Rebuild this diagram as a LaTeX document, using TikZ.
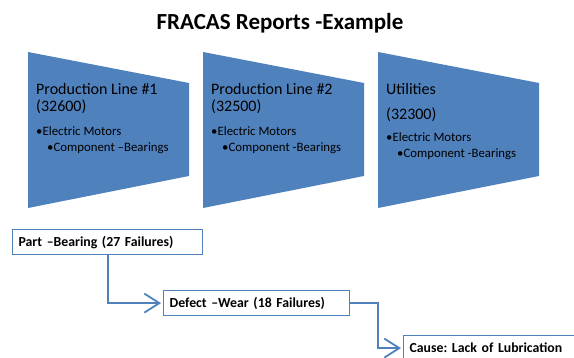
\documentclass[tikz,border=0pt]{standalone}
\usepackage{fontspec}
\setmainfont{Carlito}
\usetikzlibrary{positioning,arrows.meta}
\frenchspacing

\definecolor{procblue}{HTML}{4F81BD}

\begin{document}
\begin{tikzpicture}[x=1pt, y=-1pt, >={Straight Barb[length=15pt, width=19pt]},
  head/.style={anchor=base west, inner sep=0pt, font=\fontsize{16}{18}\selectfont},
  item/.style={anchor=base west, inner sep=0pt, font=\fontsize{12.8}{14}\selectfont},
  report/.style={draw=procblue, line width=1.2pt, anchor=north west, inner sep=6pt,
    align=left, minimum height=25pt, font=\bfseries\fontsize{13.8}{15}\selectfont},
  conn/.style={draw=procblue, line width=1.8pt, ->, shorten >=2pt}]
  \clip (0,0) rectangle (574,358);

  \node[font=\bfseries\fontsize{23}{26}\selectfont, anchor=base] (title) at (280,30) {FRACAS Reports -Example};

  % process shapes
  \foreach \i/\x/\dy/\comp in {1/28/0/{Component –Bearings}, 2/203/0/{Component -Bearings}, 3/378/6/{Component -Bearings}} {
    \fill[procblue] (\x,52) -- (\x+161,83) -- (\x+161,176) -- (\x,208) -- cycle;
    \node[item] (motors\i) at (\x+8,136+\dy) {•Electric Motors};
    \node[item] (comp\i) at (\x+19,152+\dy) {•\comp};
  }
  \node[head] (line1) at (36,95) {Production Line \#1};
  \node[head] (code1) at (36,112) {(32600)};
  \node[head] (line2) at (211,95) {Production Line \#2};
  \node[head] (code2) at (211,112) {(32500)};
  \node[head] (util) at (386,95) {Utilities};
  \node[head] (code3) at (386,120) {(32300)};

  % drill-down
  \node[report, text width=178pt] (part) at (12,229) {Part –Bearing (27 Failures)};
  \node[report, text width=174pt] (defect) at (163,290) {Defect –Wear (18 Failures)};
  \node[report, text width=200pt] (cause) at (403,335) {Cause: Lack of Lubrication};

  \draw[conn] (part.south) |- (defect.west);
  \draw[conn] (defect.east) -- ++(28,0) |- (cause.west);
\end{tikzpicture}
\end{document}
